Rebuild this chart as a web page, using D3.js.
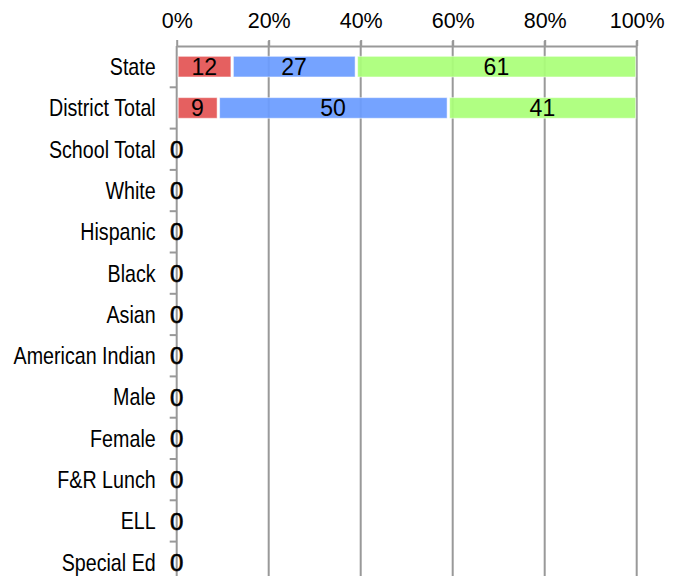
<!DOCTYPE html>
<html><head><meta charset="utf-8">
<script src="https://cdn.jsdelivr.net/npm/d3@7"></script>
<style>body{margin:0;background:#fff}</style>
</head><body>
<svg id="c" width="674" height="576"></svg>
<script>
const categories = ["State","District Total","School Total","White","Hispanic","Black","Asian","American Indian","Male","Female","F&R Lunch","ELL","Special Ed"];
const seriesNames = ["Low","Mid","High"];
const lowVals  = [12, 9, 0,0,0,0,0,0,0,0,0,0,0];
const midVals  = [27,50, 0,0,0,0,0,0,0,0,0,0,0];
const highVals = [61,41, 0,0,0,0,0,0,0,0,0,0,0];
const xTicks = [0,20,40,60,80,100];
const colors = ["#e35454","#6b9cff","#aaff78"];

(function(){
const svg = d3.select("#c");
const pLeft = 176.7, pRight = 636.7, pTop = 46, band = 41.3;
const x = d3.scaleLinear().domain([0,100]).range([pLeft,pRight]);
const y = d3.scaleBand().domain(categories).range([pTop, pTop + band*categories.length]).paddingInner(0.5).paddingOuter(0.25);
const font = "'Liberation Sans', Arial, sans-serif";
const grey = "#999";

// gridlines
svg.append("g").selectAll("line").data(xTicks.slice(1)).join("line")
  .attr("x1", d=>x(d)).attr("x2", d=>x(d)).attr("y1", pTop-5).attr("y2", 600)
  .attr("stroke", grey).attr("stroke-width", 2);

// top axis
const xa = svg.append("g").attr("transform", `translate(0,${pTop})`)
  .call(d3.axisTop(x).tickValues(xTicks).tickFormat(d=>d+"%").tickSize(6).tickSizeOuter(0));
xa.select(".domain").attr("stroke", grey).attr("stroke-width", 2);
xa.selectAll(".tick line").attr("stroke", grey).attr("stroke-width", 2);
xa.selectAll(".tick text").attr("font-family", font).attr("font-size", 21.5).attr("fill","#000").attr("y", -18).attr("dy", "0");

// y axis
const ya = svg.append("g").attr("transform", `translate(${pLeft},0)`);
ya.append("line").attr("x1",0).attr("x2",0).attr("y1",pTop).attr("y2",600).attr("stroke",grey).attr("stroke-width",2);
const bounds = d3.range(1, categories.length).map(i => pTop + band*i);
ya.selectAll("line.t").data(bounds).join("line").attr("class","t")
  .attr("x1",-7).attr("x2",0).attr("y1",d=>d).attr("y2",d=>d).attr("stroke",grey).attr("stroke-width",2);
ya.selectAll("text").data(categories).join("text")
  .attr("transform", d=>`translate(-21,${y(d)+y.bandwidth()/2}) scale(0.82,1)`)
  .attr("dy","0.35em")
  .attr("text-anchor","end").attr("font-family",font).attr("font-size",24).attr("fill","#000")
  .text(d=>d);

// stacked bars
const rows = categories.map((c,i)=>({cat:c, vals:[lowVals[i],midVals[i],highVals[i]]}));
const g = svg.append("g");
rows.forEach(r=>{
  let acc = 0;
  const total = d3.sum(r.vals);
  if (total === 0) {
    g.append("text").attr("x", x(0)).attr("y", y(r.cat)+y.bandwidth()/2).attr("dy","0.36em")
      .attr("text-anchor","middle").attr("font-family",font).attr("font-size",24)
      .attr("fill","#000").attr("stroke","#000").attr("stroke-width",0.6).text("0");
    return;
  }
  r.vals.forEach((v,k)=>{
    const x0 = x(acc), x1 = x(acc+v);
    g.append("rect").attr("x", x0+1.5).attr("y", y(r.cat)).attr("width", Math.max(0,x1-x0-2.5)).attr("height", y.bandwidth())
      .attr("fill", colors[k]).attr("fill-opacity",0.93).attr("stroke","#fff").attr("stroke-opacity",0.5).attr("stroke-width",1);
    g.append("text").attr("x",(x0+x1)/2).attr("y", y(r.cat)+y.bandwidth()/2).attr("dy","0.36em")
      .attr("text-anchor","middle").attr("font-family",font).attr("font-size",23).attr("fill","#000").text(v);
    acc += v;
  });
});
})();
</script>
</body></html>
